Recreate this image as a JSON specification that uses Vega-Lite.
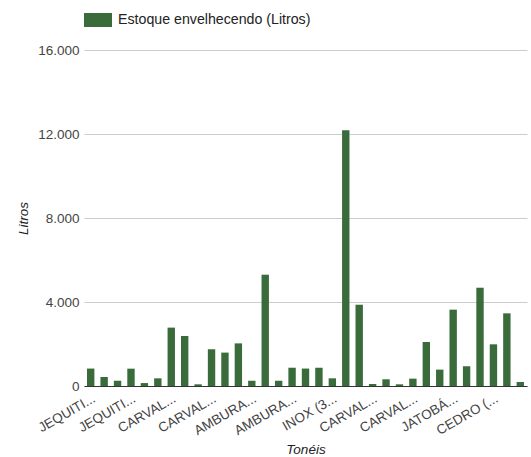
{
  "$schema": "https://vega.github.io/schema/vega-lite/v6.json",
  "width": 443,
  "height": 336,
  "padding": {"left": 84, "top": 50, "right": 4, "bottom": 71},
  "autosize": {"type": "none"},
  "background": "white",
  "config": {
    "font": "Liberation Sans",
    "view": {"stroke": null}
  },
  "data": {
    "values": [
      {"tonel": "JEQUITIBÁ 01", "litros": 830},
      {"tonel": "JEQUITIBÁ 02", "litros": 430},
      {"tonel": "JEQUITIBÁ 03", "litros": 250},
      {"tonel": "JEQUITIBÁ 04", "litros": 825},
      {"tonel": "JEQUITIBÁ 05", "litros": 140},
      {"tonel": "JEQUITIBÁ 06", "litros": 365},
      {"tonel": "CARVALHO 01", "litros": 2780},
      {"tonel": "CARVALHO 02", "litros": 2380},
      {"tonel": "CARVALHO 03", "litros": 80},
      {"tonel": "CARVALHO 04", "litros": 1750},
      {"tonel": "CARVALHO 05", "litros": 1590},
      {"tonel": "CARVALHO 06", "litros": 2030},
      {"tonel": "AMBURANA 01", "litros": 250},
      {"tonel": "AMBURANA 02", "litros": 5300},
      {"tonel": "AMBURANA 03", "litros": 250},
      {"tonel": "AMBURANA 04", "litros": 870},
      {"tonel": "AMBURANA 05", "litros": 830},
      {"tonel": "AMBURANA 06", "litros": 870},
      {"tonel": "INOX (300 L) 01", "litros": 365},
      {"tonel": "INOX (300 L) 02", "litros": 12180},
      {"tonel": "INOX (300 L) 03", "litros": 3870},
      {"tonel": "CARVALHO 07", "litros": 95},
      {"tonel": "CARVALHO 08", "litros": 320},
      {"tonel": "CARVALHO 09", "litros": 80},
      {"tonel": "CARVALHO 10", "litros": 350},
      {"tonel": "CARVALHO 11", "litros": 2095},
      {"tonel": "CARVALHO 12", "litros": 780},
      {"tonel": "JATOBÁ 01", "litros": 3635},
      {"tonel": "JATOBÁ 02", "litros": 940},
      {"tonel": "JATOBÁ 03", "litros": 4680},
      {"tonel": "CEDRO (200 L) 01", "litros": 1985},
      {"tonel": "CEDRO (200 L) 02", "litros": 3460},
      {"tonel": "CEDRO (200 L) 03", "litros": 190}
    ]
  },
  "mark": {"type": "bar", "color": "#3a6b3a"},
  "encoding": {
    "x": {
      "field": "tonel",
      "type": "nominal",
      "sort": null,
      "title": "Tonéis",
      "scale": {"paddingInner": 0.45, "paddingOuter": 0.225},
      "axis": {
        "values": ["JEQUITIBÁ 01", "JEQUITIBÁ 04", "CARVALHO 01", "CARVALHO 04", "AMBURANA 01", "AMBURANA 04", "INOX (300 L) 01", "CARVALHO 07", "CARVALHO 10", "JATOBÁ 01", "CEDRO (200 L) 01"],
        "labelExpr": "(slice(datum.label,0,4) == 'JEQU' || slice(datum.label,0,4) == 'INOX' || slice(datum.label,0,4) == 'CEDR' ? slice(datum.label,0,7) : slice(datum.label,0,6)) + '...'",
        "labelAngle": -30,
        "labelAlign": "right",
        "labelBaseline": "top",
        "labelPadding": 5,
        "labelFontSize": 13.5,
        "labelColor": "#444444",
        "labelLimit": 200,
        "ticks": false,
        "domain": true,
        "domainColor": "#333333",
        "domainWidth": 1,
        "grid": false,
        "titleFontSize": 13.5,
        "titleFontStyle": "italic",
        "titleFontWeight": "normal",
        "titleColor": "#222222",
        "titleY": 70,
        "titleBaseline": "bottom"
      }
    },
    "y": {
      "field": "litros",
      "type": "quantitative",
      "title": "Litros",
      "scale": {"domain": [0, 16000], "nice": false},
      "axis": {
        "values": [0, 4000, 8000, 12000, 16000],
        "labelExpr": "replace(format(datum.value, ','), ',', '.')",
        "labelFontSize": 13.5,
        "labelColor": "#444444",
        "labelPadding": 5,
        "ticks": false,
        "domain": false,
        "gridColor": "#cccccc",
        "titleFontSize": 13.5,
        "titleFontStyle": "italic",
        "titleFontWeight": "normal",
        "titleColor": "#222222",
        "titleX": -61,
        "titleY": 168,
        "titleAlign": "center",
        "titleBaseline": "middle"
      }
    },
    "color": {
      "datum": "Estoque envelhecendo (Litros)",
      "type": "nominal",
      "scale": {"range": ["#3a6b3a"]},
      "legend": {
        "title": null,
        "orient": "none",
        "legendX": 0,
        "legendY": -44,
        "symbolType": "M-1,-0.5H1V0.5H-1Z",
        "symbolSize": 784,
        "symbolStrokeWidth": 0,
        "labelFontSize": 14.2,
        "labelColor": "#222222",
        "labelOffset": 6,
        "labelLimit": 400
      }
    }
  },
  "view": {"stroke": null}
}
